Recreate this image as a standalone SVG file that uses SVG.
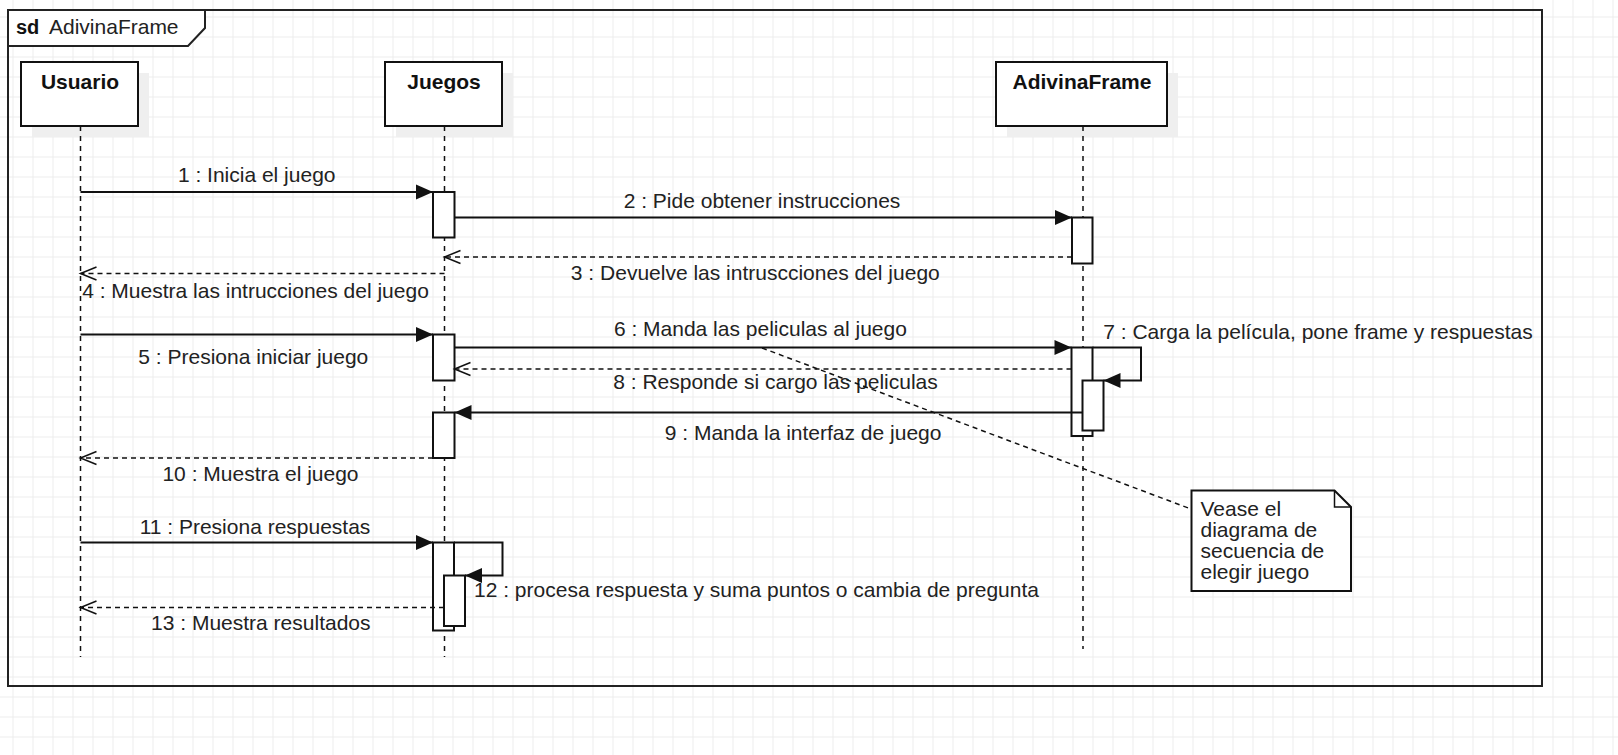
<svg xmlns="http://www.w3.org/2000/svg" width="1618" height="755" viewBox="0 0 1618 755">
<defs>
<pattern id="grid" patternUnits="userSpaceOnUse" x="12.5" y="16.5" width="20" height="20">
<path d="M0 0.5H20M0.5 0V20" fill="none" stroke="#ececec" stroke-width="1"/>
</pattern>
<marker id="sync" markerUnits="userSpaceOnUse" markerWidth="18" markerHeight="16" refX="17" refY="7.5" orient="auto" overflow="visible">
<path d="M0,0 L17,7.5 L0,15 z" fill="#111"/>
</marker>
<marker id="ret" markerUnits="userSpaceOnUse" markerWidth="18" markerHeight="16" refX="16" refY="6.5" orient="auto" overflow="visible">
<path d="M0,0 L16,6.5 L0,13" fill="none" stroke="#111" stroke-width="1.5"/>
</marker>
</defs>
<style>
.box{fill:#fff;stroke:#111;stroke-width:2}
.shadow{fill:#efefef;stroke:none}
.life{fill:none;stroke:#111;stroke-width:1.5;stroke-dasharray:5 5}
.act{fill:#fff;stroke:#111;stroke-width:2}
.msg{fill:none;stroke:#111;stroke-width:2;marker-end:url(#sync)}
.rmsg{fill:none;stroke:#111;stroke-width:1.5;stroke-dasharray:5 4;marker-end:url(#ret)}
.lbl{font-family:"Liberation Sans",Arial,sans-serif;font-size:21px;fill:#222}
.c{text-anchor:middle}
.hdr{font-family:"Liberation Sans",Arial,sans-serif;font-size:21px;font-weight:bold;fill:#111;text-anchor:middle}
.link{fill:none;stroke:#111;stroke-width:1.5;stroke-dasharray:5 4}
</style>
<rect x="0" y="0" width="1618" height="755" fill="#fff"/>
<rect x="0" y="0" width="1618" height="755" fill="url(#grid)"/>

<g id="frame">
<rect x="8" y="10" width="1534" height="676" fill="none" stroke="#222" stroke-width="2"/>
<path d="M8,10 H205 V28 L188,46 H8 Z" fill="#fff" stroke="#222" stroke-width="2"/>
<text x="16" y="33.5" font-family="'Liberation Sans',Arial,sans-serif" font-size="20" font-weight="bold" fill="#111">sd</text>
<text x="49" y="33.5" class="lbl">AdivinaFrame</text>
</g>

<g id="usuario">
<rect class="shadow" x="32" y="73" width="117" height="64"/>
<rect class="box" x="21" y="62" width="117" height="64"/>
<text class="hdr" x="80" y="89">Usuario</text>
<line class="life" x1="80.5" y1="126" x2="80.5" y2="657"/>
</g>

<g id="juegos">
<rect class="shadow" x="396" y="73" width="117" height="64"/>
<rect class="box" x="385" y="62" width="117" height="64"/>
<text class="hdr" x="444" y="89">Juegos</text>
<line class="life" x1="444.5" y1="126" x2="444.5" y2="657"/>
<rect class="act" x="433" y="192" width="21.5" height="45.5"/>
<rect class="act" x="433" y="334.5" width="21.5" height="46"/>
<rect class="act" x="433" y="412.5" width="21.5" height="45.5"/>
<rect class="act" x="433" y="542.5" width="21" height="88"/>
<rect class="act" x="444" y="575.5" width="21" height="50.5"/>
</g>

<g id="adivinaframe">
<rect class="shadow" x="1007" y="73" width="171" height="64"/>
<rect class="box" x="996" y="62" width="171" height="64"/>
<text class="hdr" x="1082" y="88.5">AdivinaFrame</text>
<line class="life" x1="1083" y1="126" x2="1083" y2="649"/>
<rect class="act" x="1072" y="217.5" width="20.5" height="46"/>
<rect class="act" x="1071.5" y="347.5" width="21" height="88.5"/>
<rect class="act" x="1082.5" y="380.5" width="21" height="50"/>
</g>

<g id="note">
<path d="M1191.5,490.5 H1334.5 L1351,507 V591 H1191.5 Z" fill="#fff" stroke="#111" stroke-width="2"/>
<path d="M1334.5,490.5 V507 H1351" fill="none" stroke="#111" stroke-width="1.5"/>
<text class="lbl" x="1200.5" y="516">Vease el</text>
<text class="lbl" x="1200.5" y="537">diagrama de</text>
<text class="lbl" x="1200.5" y="558">secuencia de</text>
<text class="lbl" x="1200.5" y="579">elegir juego</text>
</g>

<g id="connectors">
<line class="msg" x1="80.5" y1="192" x2="433" y2="192"/>
<line class="msg" x1="454.5" y1="217.5" x2="1072" y2="217.5"/>
<line class="rmsg" x1="1072" y1="257" x2="444.5" y2="257"/>
<line class="rmsg" x1="444.5" y1="273.5" x2="80.5" y2="273.5"/>
<line class="msg" x1="80.5" y1="334.5" x2="433" y2="334.5"/>
<line class="msg" x1="454.5" y1="347.5" x2="1071.5" y2="347.5"/>
<path class="msg" d="M1092.5,347.5 H1141 V380.5 H1103.5"/>
<line class="rmsg" x1="1071.5" y1="369" x2="454.5" y2="369"/>
<line class="msg" x1="1082.5" y1="412.5" x2="454.5" y2="412.5"/>
<line class="rmsg" x1="433" y1="458" x2="80.5" y2="458"/>
<line class="msg" x1="80.5" y1="542.5" x2="433" y2="542.5"/>
<path class="msg" d="M454,542.5 H502.5 V575.5 H465"/>
<line class="rmsg" x1="444" y1="607.5" x2="80.5" y2="607.5"/>
</g>

<g id="labels">
<text class="lbl c" x="256.7" y="182">1 : Inicia el juego</text>
<text class="lbl c" x="762" y="207.5">2 : Pide obtener instrucciones</text>
<text class="lbl c" x="755.3" y="279.5">3 : Devuelve las intruscciones del juego</text>
<text class="lbl c" x="255.5" y="298">4 : Muestra las intrucciones del juego</text>
<text class="lbl c" x="253.3" y="364">5 : Presiona iniciar juego</text>
<text class="lbl c" x="760.4" y="336">6 : Manda las peliculas al juego</text>
<text class="lbl c" x="1318" y="338.5">7 : Carga la película, pone frame y respuestas</text>
<text class="lbl c" x="775.5" y="388.5">8 : Responde si cargo las peliculas</text>
<text class="lbl c" x="803.1" y="440">9 : Manda la interfaz de juego</text>
<text class="lbl c" x="260.5" y="480.5">10 : Muestra el juego</text>
<text class="lbl c" x="255" y="533.5">11 : Presiona respuestas</text>
<text class="lbl c" x="756.5" y="597">12 : procesa respuesta y suma puntos o cambia de pregunta</text>
<text class="lbl c" x="260.8" y="629.5">13 : Muestra resultados</text>
</g>

<g id="note-link">
<line class="link" x1="762" y1="348" x2="1191" y2="509"/>
</g>
</svg>
